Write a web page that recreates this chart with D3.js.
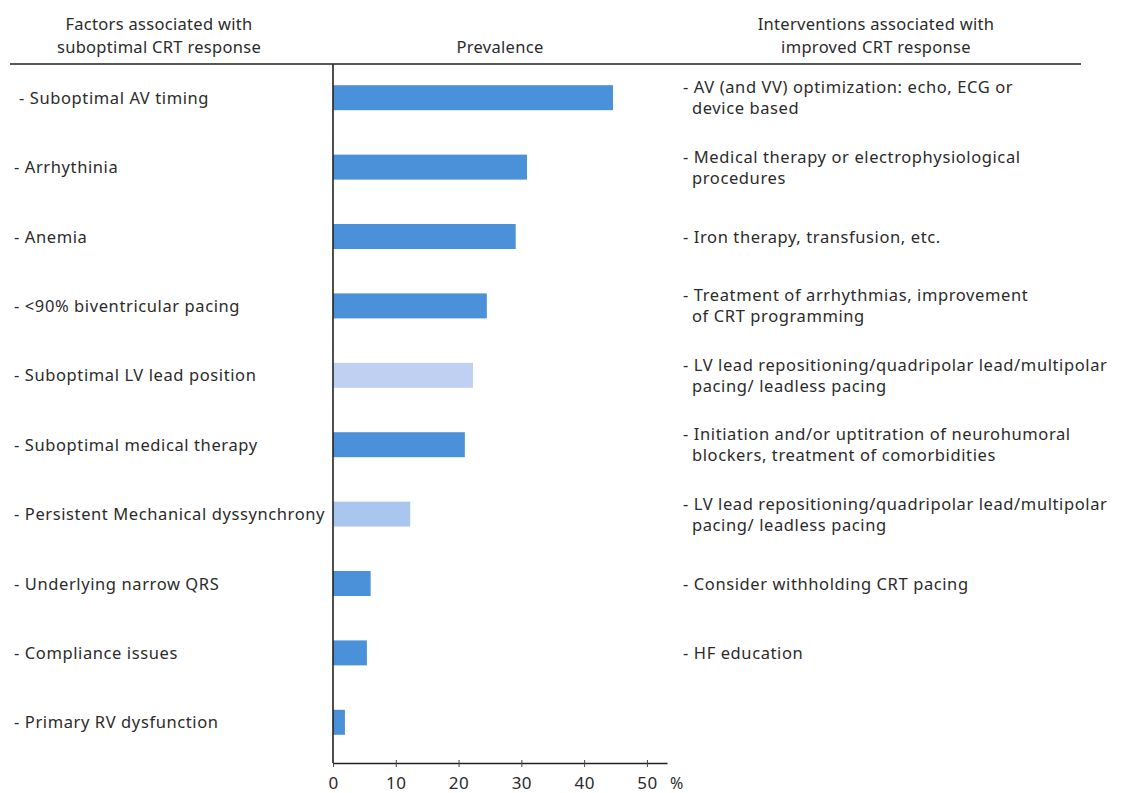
<!DOCTYPE html>
<html><head><meta charset="utf-8">
<script src="https://cdn.jsdelivr.net/npm/d3@7"></script>
<style>
html,body{margin:0;padding:0;background:#fff;}
text{font-family:"Noto Sans",sans-serif;fill:#2b2b2b;}
</style></head>
<body>
<svg id="chart" width="1124" height="793"></svg>
<script>
const factors = [
  "- Suboptimal AV timing",
  "- Arrhythinia",
  "- Anemia",
  "- <90% biventricular pacing",
  "- Suboptimal LV lead position",
  "- Suboptimal medical therapy",
  "- Persistent Mechanical dyssynchrony",
  "- Underlying narrow QRS",
  "- Compliance issues",
  "- Primary RV dysfunction"
];
const prevalence = [44.6, 30.9, 29.1, 24.5, 22.3, 21.0, 12.3, 6.0, 5.4, 1.9];
const interventions = [
  ["- AV (and VV) optimization: echo, ECG or", "device based"],
  ["- Medical therapy or electrophysiological", "procedures"],
  ["- Iron therapy, transfusion, etc."],
  ["- Treatment of arrhythmias, improvement", "of CRT programming"],
  ["- LV lead repositioning/quadripolar lead/multipolar", "pacing/ leadless pacing"],
  ["- Initiation and/or uptitration of neurohumoral", "blockers, treatment of comorbidities"],
  ["- LV lead repositioning/quadripolar lead/multipolar", "pacing/ leadless pacing"],
  ["- Consider withholding CRT pacing"],
  ["- HF education"],
  []
];
const xTicks = [0, 10, 20, 30, 40, 50];
const headerLeft = ["Factors associated with", "suboptimal CRT response"];
const headerMid = ["Prevalence"];
const headerRight = ["Interventions associated with", "improved CRT response"];

// styling (separate from data)
const barFill = ["#4a91da","#4a91da","#4a91da","#4a91da","#c0d0f2","#4a91da","#a9c6ee","#4a91da","#4a91da","#4a91da"];

const svg = d3.select("#chart");
const x0 = 333, xEnd = 667, yTop = 64, yBot = 763;
const x = d3.scaleLinear().domain([0, 53.2]).range([x0, xEnd]);
const y = d3.scaleBand().domain(d3.range(factors.length)).range([63, 757]).paddingInner(0.64).paddingOuter(0.32);

// header texts
function block(lines, cx, y1, lh) {
  lines.forEach((t,i)=>svg.append("text").attr("x",cx).attr("y",y1+i*lh)
    .attr("text-anchor","middle").style("font-size","16.5px").style("letter-spacing","0.3px").text(t));
}
block(headerLeft, 159, 30, 23);
block(headerMid, 500, 53, 23);
block(headerRight, 876, 30, 23);

// header rule
svg.append("line").attr("x1",10).attr("x2",1081).attr("y1",yTop).attr("y2",yTop)
  .attr("stroke","#222").attr("stroke-width",1.6);

// bars
svg.append("g").selectAll("rect").data(prevalence).join("rect")
  .attr("x", x(0)).attr("y",(d,i)=>y(i)).attr("height", y.bandwidth())
  .attr("width", d=>x(d)-x(0)).attr("fill",(d,i)=>barFill[i]);

// vertical axis line
svg.append("line").attr("x1",x0).attr("x2",x0).attr("y1",yTop).attr("y2",yBot)
  .attr("stroke","#222").attr("stroke-width",1.6);

// x axis
const ax = svg.append("g").attr("transform",`translate(0,${yBot})`)
  .call(d3.axisBottom(x).tickValues(xTicks).tickSize(4).tickSizeOuter(0).tickFormat(d3.format("d")));
ax.attr("font-size", 17).attr("font-family", "Noto Sans");
ax.select(".domain").attr("stroke","#222").attr("stroke-width",1.4);
ax.selectAll(".tick line").attr("stroke","#444").attr("y1",-3);
ax.selectAll(".tick text").attr("y",14).attr("font-size",17).style("letter-spacing","0.5px").attr("fill","#2b2b2b");
svg.append("text").attr("x", x(50)+23).attr("y", yBot+26).style("font-size","16px").text("%");

// left labels
svg.append("g").selectAll("text").data(factors).join("text")
  .attr("x",(d,i)=> i===0 ? 19 : 14)
  .attr("y",(d,i)=>y(i)+y.bandwidth()/2+6)
  .style("font-size","16.5px").style("letter-spacing","0.6px").text(d=>d);

// right labels
const rg = svg.append("g");
interventions.forEach((lines,i)=>{
  const cy = y(i)+y.bandwidth()/2;
  const n = lines.length, lh = 21;
  lines.forEach((t,j)=>{
    rg.append("text").attr("x", j===0 ? 683 : 692)
      .attr("y", cy - (n-1)*lh/2 + j*lh + 6)
      .style("font-size","16.5px").style("letter-spacing","0.6px").text(t);
  });
});
</script>
</body></html>
